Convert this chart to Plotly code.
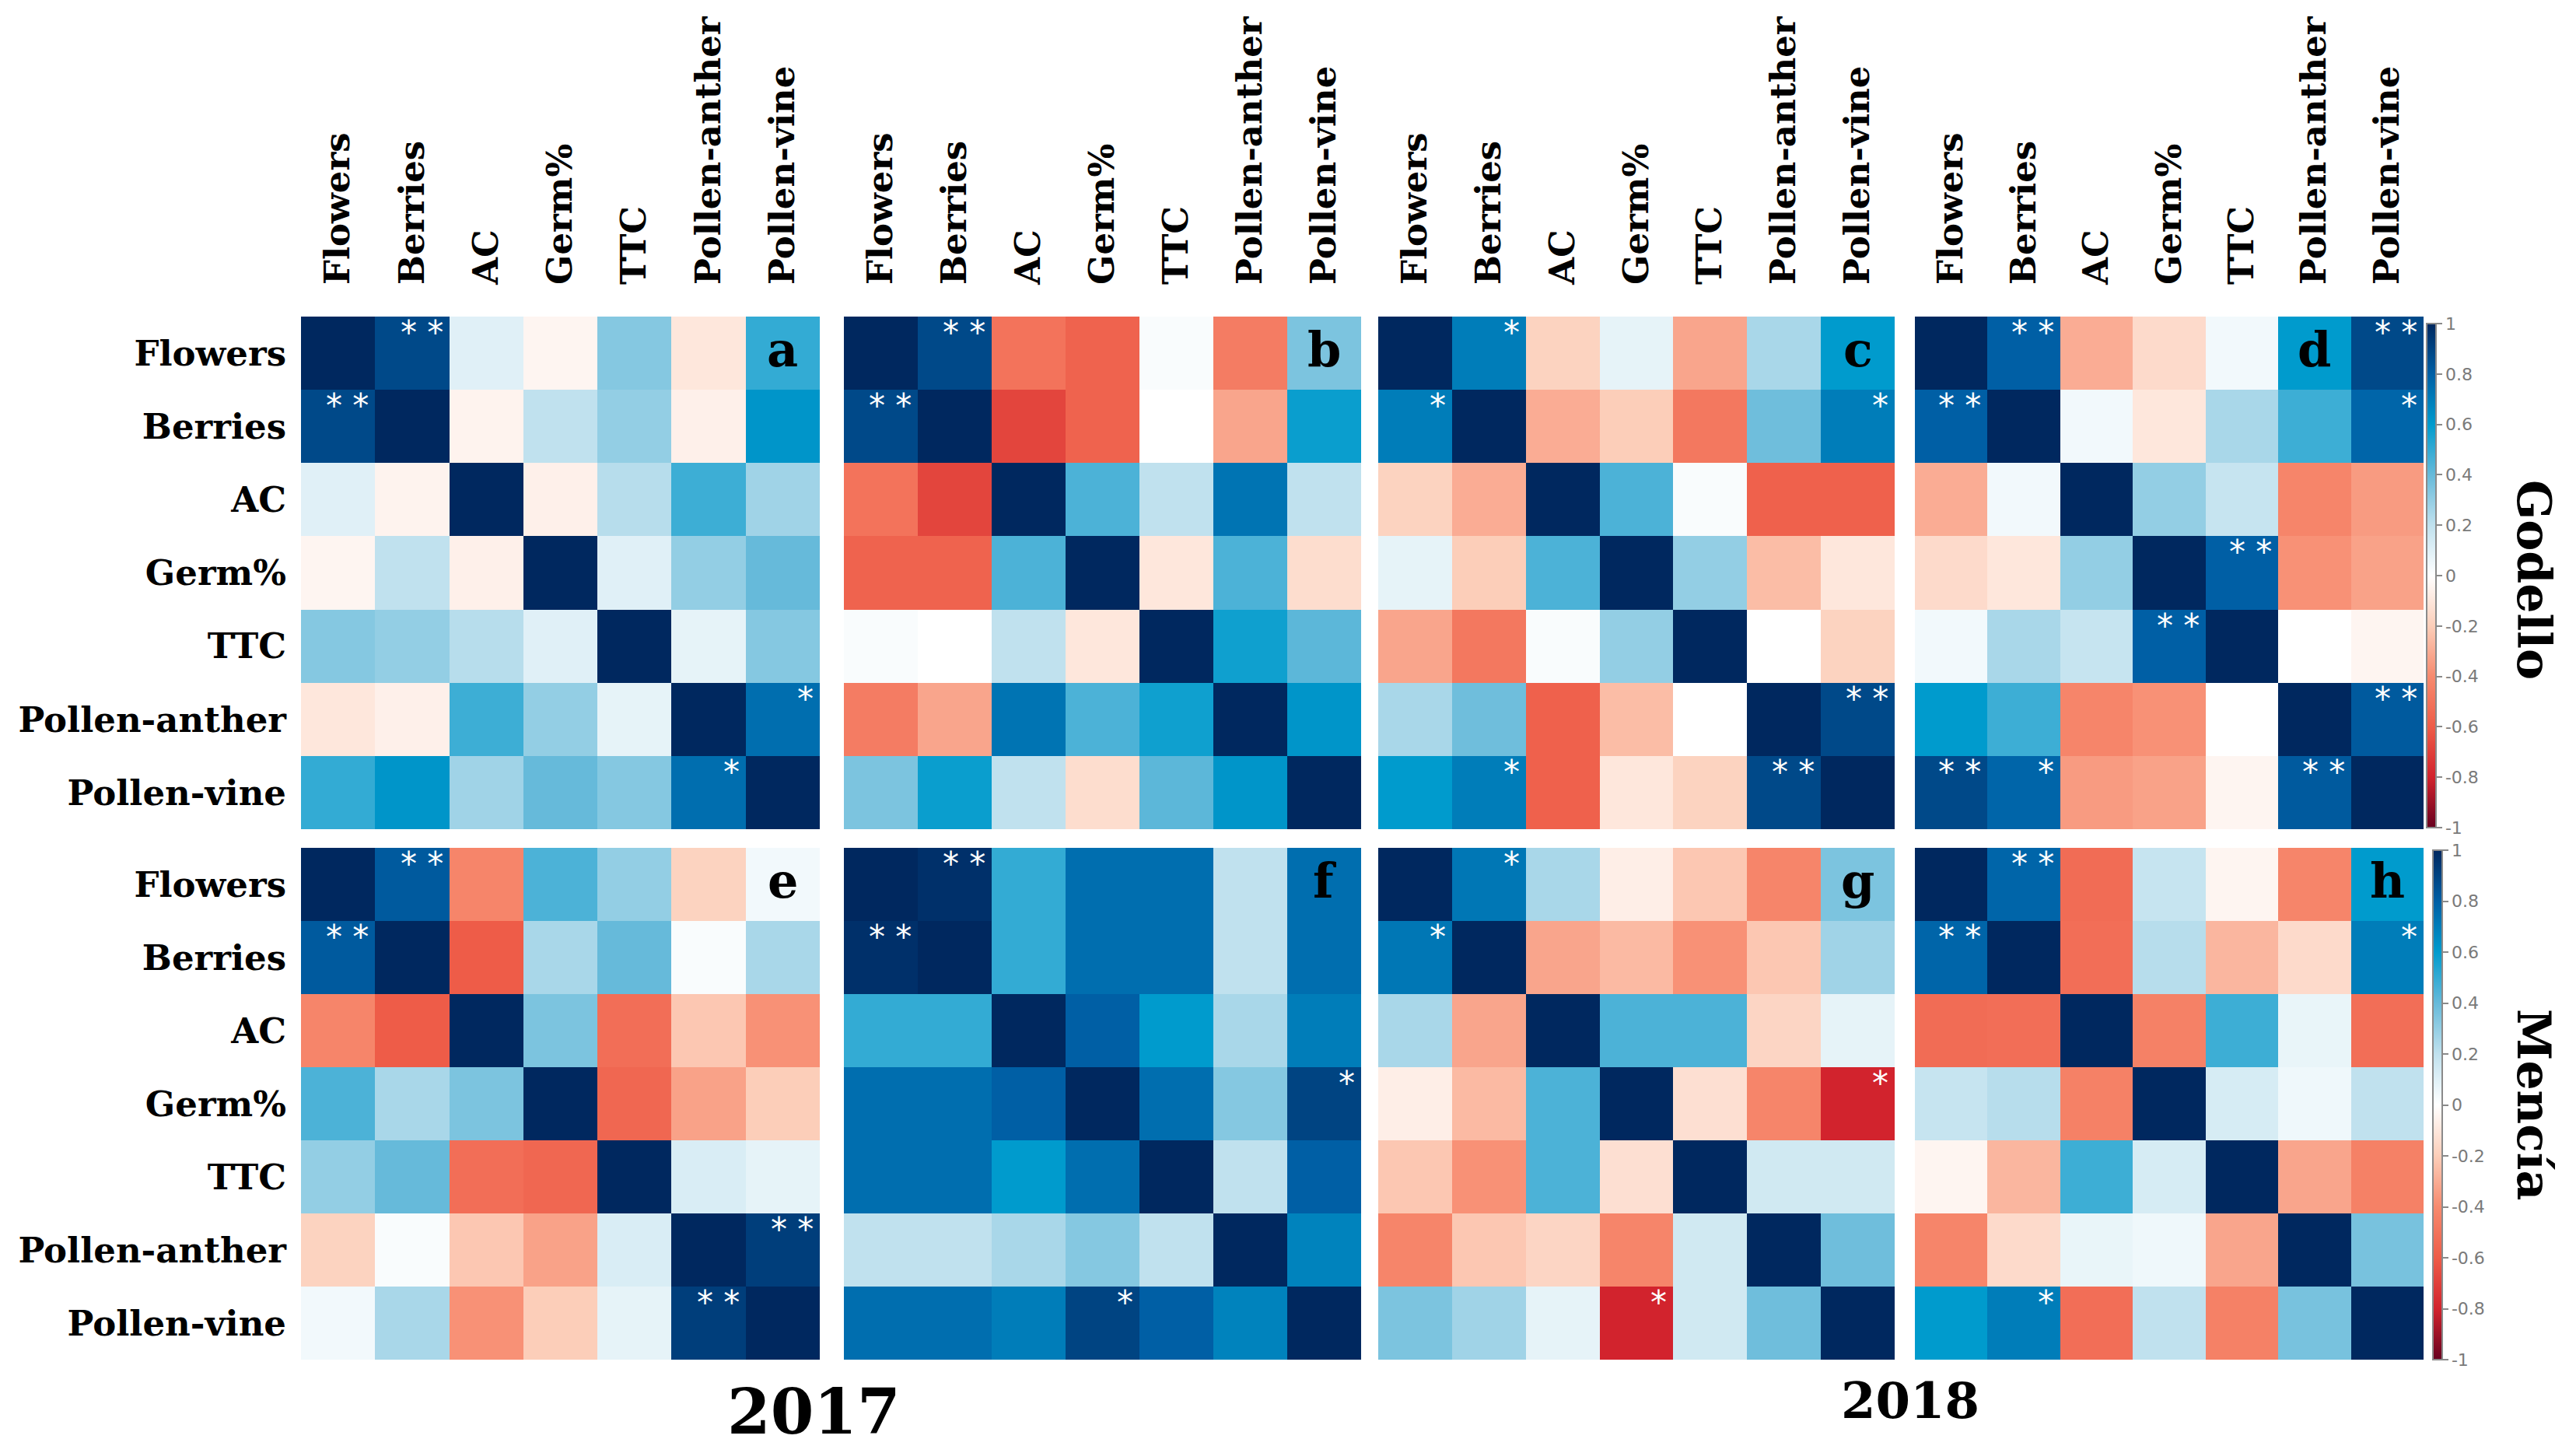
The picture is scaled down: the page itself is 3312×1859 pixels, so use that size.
import plotly.graph_objects as go

W, H = 3312, 1859

labels = ["Flowers", "Berries", "AC", "Germ%", "TTC", "Pollen-anther", "Pollen-vine"]

# Godello 2017
corr_a = [
    [1.00, 0.88, 0.10, -0.04, 0.33, -0.10, 0.50],
    [0.88, 1.00, -0.05, 0.20, 0.30, -0.06, 0.62],
    [0.10, -0.05, 1.00, -0.06, 0.22, 0.48, 0.27],
    [-0.04, 0.20, -0.06, 1.00, 0.10, 0.30, 0.40],
    [0.33, 0.30, 0.22, 0.10, 1.00, 0.08, 0.33],
    [-0.10, -0.06, 0.48, 0.30, 0.08, 1.00, 0.75],
    [0.50, 0.62, 0.27, 0.40, 0.33, 0.75, 1.00],
]
corr_b = [
    [1.00, 0.88, -0.50, -0.57, 0.02, -0.46, 0.35],
    [0.88, 1.00, -0.68, -0.57, 0.00, -0.32, 0.58],
    [-0.50, -0.68, 1.00, 0.45, 0.20, 0.73, 0.20],
    [-0.57, -0.57, 0.45, 1.00, -0.10, 0.45, -0.14],
    [0.02, 0.00, 0.20, -0.10, 1.00, 0.57, 0.42],
    [-0.46, -0.32, 0.73, 0.45, 0.57, 1.00, 0.62],
    [0.35, 0.58, 0.20, -0.14, 0.42, 0.62, 1.00],
]
# Godello 2018
corr_c = [
    [1.00, 0.70, -0.18, 0.08, -0.32, 0.25, 0.60],
    [0.70, 1.00, -0.30, -0.20, -0.48, 0.38, 0.70],
    [-0.18, -0.30, 1.00, 0.45, 0.02, -0.58, -0.58],
    [0.08, -0.20, 0.45, 1.00, 0.30, -0.25, -0.10],
    [-0.32, -0.48, 0.02, 0.30, 1.00, 0.00, -0.18],
    [0.25, 0.38, -0.58, -0.25, 0.00, 1.00, 0.88],
    [0.60, 0.70, -0.58, -0.10, -0.18, 0.88, 1.00],
]
corr_d = [
    [1.00, 0.80, -0.30, -0.15, 0.04, 0.60, 0.88],
    [0.80, 1.00, 0.04, -0.10, 0.25, 0.48, 0.78],
    [-0.30, 0.04, 1.00, 0.30, 0.18, -0.42, -0.35],
    [-0.15, -0.10, 0.30, 1.00, 0.80, -0.38, -0.33],
    [0.04, 0.25, 0.18, 0.80, 1.00, 0.00, -0.04],
    [0.60, 0.48, -0.42, -0.38, 0.00, 1.00, 0.82],
    [0.88, 0.78, -0.35, -0.33, -0.04, 0.82, 1.00],
]
# Mencía 2017
corr_e = [
    [1.00, 0.82, -0.42, 0.45, 0.30, -0.18, 0.04],
    [0.82, 1.00, -0.60, 0.25, 0.40, 0.02, 0.25],
    [-0.42, -0.60, 1.00, 0.35, -0.52, -0.22, -0.38],
    [0.45, 0.25, 0.35, 1.00, -0.55, -0.33, -0.20],
    [0.30, 0.40, -0.52, -0.55, 1.00, 0.12, 0.08],
    [-0.18, 0.02, -0.22, -0.33, 0.12, 1.00, 0.92],
    [0.04, 0.25, -0.38, -0.20, 0.08, 0.92, 1.00],
]
corr_f = [
    [1.00, 0.97, 0.50, 0.75, 0.75, 0.20, 0.75],
    [0.97, 1.00, 0.50, 0.75, 0.75, 0.20, 0.75],
    [0.50, 0.50, 1.00, 0.80, 0.60, 0.25, 0.70],
    [0.75, 0.75, 0.80, 1.00, 0.75, 0.33, 0.90],
    [0.75, 0.75, 0.60, 0.75, 1.00, 0.20, 0.80],
    [0.20, 0.20, 0.25, 0.33, 0.20, 1.00, 0.68],
    [0.75, 0.75, 0.70, 0.90, 0.80, 0.68, 1.00],
]
# Mencía 2018
corr_g = [
    [1.00, 0.72, 0.25, -0.07, -0.22, -0.42, 0.35],
    [0.72, 1.00, -0.32, -0.26, -0.38, -0.22, 0.27],
    [0.25, -0.32, 1.00, 0.45, 0.45, -0.17, 0.08],
    [-0.07, -0.26, 0.45, 1.00, -0.13, -0.42, -0.80],
    [-0.22, -0.38, 0.45, -0.13, 1.00, 0.15, 0.15],
    [-0.42, -0.22, -0.17, -0.42, 0.15, 1.00, 0.38],
    [0.35, 0.27, 0.08, -0.80, 0.15, 0.38, 1.00],
]
corr_h = [
    [1.00, 0.78, -0.53, 0.18, -0.04, -0.42, 0.60],
    [0.78, 1.00, -0.52, 0.22, -0.27, -0.15, 0.70],
    [-0.53, -0.52, 1.00, -0.44, 0.48, 0.07, -0.52],
    [0.18, 0.22, -0.44, 1.00, 0.13, 0.05, 0.20],
    [-0.04, -0.27, 0.48, 0.13, 1.00, -0.32, -0.44],
    [-0.42, -0.15, 0.07, 0.05, -0.32, 1.00, 0.36],
    [0.60, 0.70, -0.52, 0.20, -0.44, 0.36, 1.00],
]

# significance marks (row, col, mark)
sig_a = [(0, 1, "**"), (1, 0, "**"), (5, 6, "*"), (6, 5, "*")]
sig_b = [(0, 1, "**"), (1, 0, "**")]
sig_c = [(0, 1, "*"), (1, 0, "*"), (1, 6, "*"), (6, 1, "*"), (5, 6, "**"), (6, 5, "**")]
sig_d = [(0, 1, "**"), (1, 0, "**"), (0, 6, "**"), (6, 0, "**"), (1, 6, "*"), (6, 1, "*"),
         (3, 4, "**"), (4, 3, "**"), (5, 6, "**"), (6, 5, "**")]
sig_e = [(0, 1, "**"), (1, 0, "**"), (5, 6, "**"), (6, 5, "**")]
sig_f = [(0, 1, "**"), (1, 0, "**"), (3, 6, "*"), (6, 3, "*")]
sig_g = [(0, 1, "*"), (1, 0, "*"), (3, 6, "*"), (6, 3, "*")]
sig_h = [(0, 1, "**"), (1, 0, "**"), (1, 6, "*"), (6, 1, "*")]

panel_letters = ["a", "b", "c", "d", "e", "f", "g", "h"]
years = ["2017", "2018"]
cultivars = ["Godello", "Mencía"]

cbar_ticks = [1, 0.8, 0.6, 0.4, 0.2, 0, -0.2, -0.4, -0.6, -0.8, -1]
cbar_ticktext = ["1", "0.8", "0.6", "0.4", "0.2", "0", "-0.2", "-0.4", "-0.6", "-0.8", "-1"]

# ---------------- styling / layout ----------------
colorscale = [
    [0.00, "rgb(103,0,31)"],
    [0.10, "rgb(210,35,45)"],
    [0.20, "rgb(238,92,72)"],
    [0.30, "rgb(247,138,110)"],
    [0.40, "rgb(252,206,185)"],
    [0.50, "rgb(255,255,255)"],
    [0.60, "rgb(192,225,238)"],
    [0.70, "rgb(102,186,218)"],
    [0.80, "rgb(0,155,205)"],
    [0.90, "rgb(0,95,165)"],
    [1.00, "rgb(0,40,95)"],
]

OFF = 8  # page body margin in the browser


def px_x(p):
    return (p - OFF) / W


def px_y(p):
    return 1 - (p - OFF) / H


serif = "DejaVu Serif"
panels = [
    (corr_a, sig_a, 6), (corr_b, sig_b, 6), (corr_c, sig_c, 6), (corr_d, sig_d, 5),
    (corr_e, sig_e, 6), (corr_f, sig_f, 6), (corr_g, sig_g, 6), (corr_h, sig_h, 6),
]
col_px = [(387, 1054), (1085, 1750), (1772, 2436), (2462, 3116)]
row_px = [(407, 1066), (1090, 1748)]

fig = go.Figure()
layout = {}
annotations = []
for i, (z, sig, letter_col) in enumerate(panels):
    k = i + 1
    r, c = divmod(i, 4)
    xs = "" if k == 1 else str(k)
    fig.add_trace(go.Heatmap(
        z=z, x=labels, y=labels,
        coloraxis="coloraxis" if r == 0 else "coloraxis2",
        xaxis="x" + xs, yaxis="y" + xs, hoverinfo="skip",
    ))
    x0, x1 = col_px[c]
    y0, y1 = row_px[r]
    layout["xaxis" + xs] = dict(
        domain=[px_x(x0), px_x(x1)], anchor="y" + xs, type="category",
        range=[-0.5, 6.5], showgrid=False, zeroline=False, showline=False,
        ticks="", side="top", tickangle=-90, showticklabels=(r == 0),
        ticklabelstandoff=40,
        tickfont=dict(family=serif, size=45, color="black", weight="bold"),
    )
    layout["yaxis" + xs] = dict(
        domain=[px_y(y1), px_y(y0)], anchor="x" + xs, type="category",
        range=[6.5, -0.5], showgrid=False, zeroline=False, showline=False,
        ticks="", showticklabels=(c == 0), ticklabelstandoff=18,
        tickfont=dict(family=serif, size=45, color="black", weight="bold"),
    )
    annotations.append(dict(
        xref="x" + xs, yref="y" + xs, x=letter_col, y=-0.05, text=panel_letters[i],
        showarrow=False, xanchor="center", yanchor="middle",
        font=dict(family=serif, size=62, color="black", weight="bold"),
    ))
    for (rr, cc, m) in sig:
        annotations.append(dict(
            xref="x" + xs, yref="y" + xs, x=cc + 0.5, y=rr - 0.5,
            text=m.replace("**", "* *"), showarrow=False,
            xanchor="right", yanchor="top", xshift=-6, yshift=6,
            font=dict(family="DejaVu Sans", size=42, color="white"),
        ))

annotations.append(dict(xref="paper", yref="paper", x=px_x(1046), y=px_y(1815),
                        text=years[0], showarrow=False, xanchor="center", yanchor="middle",
                        font=dict(family=serif, size=80, color="black", weight="bold")))
annotations.append(dict(xref="paper", yref="paper", x=px_x(2456), y=px_y(1800),
                        text=years[1], showarrow=False, xanchor="center", yanchor="middle",
                        font=dict(family=serif, size=64, color="black", weight="bold")))
annotations.append(dict(xref="paper", yref="paper", x=px_x(3258), y=px_y(745),
                        text=cultivars[0], showarrow=False, textangle=90,
                        xanchor="center", yanchor="middle",
                        font=dict(family=serif, size=60, color="black", weight="bold")))
annotations.append(dict(xref="paper", yref="paper", x=px_x(3258), y=px_y(1420),
                        text=cultivars[1], showarrow=False, textangle=90,
                        xanchor="center", yanchor="middle",
                        font=dict(family=serif, size=60, color="black", weight="bold")))


def cbar(xpx, top, bot):
    return dict(
        x=px_x(xpx), xanchor="left", y=px_y((top + bot) / 2), yanchor="middle",
        len=(bot - top) / H, lenmode="fraction", thickness=12, thicknessmode="pixels",
        xpad=0, ypad=0, outlinewidth=2, outlinecolor="#8a8a8a",
        tickvals=cbar_ticks, ticktext=cbar_ticktext, ticks="outside", ticklen=7,
        tickcolor="#8a8a8a", tickwidth=2,
        tickfont=dict(family="DejaVu Sans", size=22, color="#7a7a7a"),
    )


layout["coloraxis"] = dict(colorscale=colorscale, cmin=-1, cmax=1, colorbar=cbar(3120, 416, 1064))
layout["coloraxis2"] = dict(colorscale=colorscale, cmin=-1, cmax=1, colorbar=cbar(3128, 1093, 1748))

fig.update_layout(
    width=W, height=H, margin=dict(l=0, r=0, t=0, b=0),
    paper_bgcolor="white", plot_bgcolor="white",
    annotations=annotations, **layout,
)

fig.write_html("out.html")
